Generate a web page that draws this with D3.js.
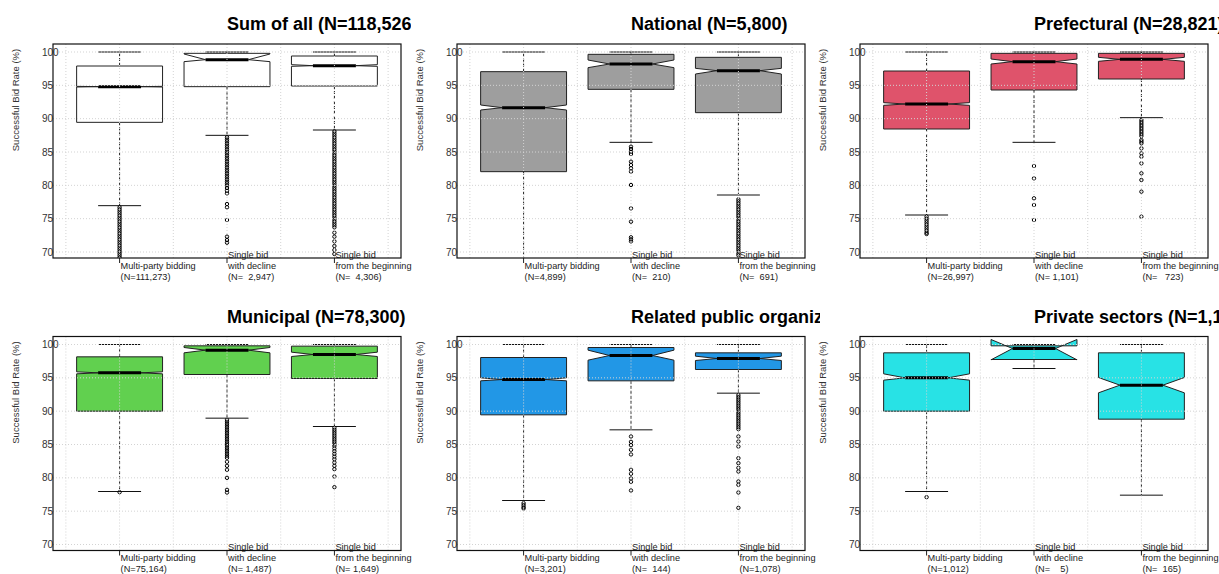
<!DOCTYPE html>
<html>
<head>
<meta charset="utf-8">
<script src="https://cdn.jsdelivr.net/npm/d3@7"></script>
<style>
  body { margin: 0; background: #fff; }
  text { font-family: "Liberation Sans", Arial, sans-serif; }
</style>
</head>
<body>
<div id="chart"></div>
<script>
// categories
const groups = ["Multi-party bidding", "Single bid\nwith decline", "Single bid\nfrom the beginning"];
const titles = ["Sum of all (N=118,526)", "National (N=5,800)", "Prefectural (N=28,821)",
                "Municipal (N=78,300)", "Related public organizations (N=4,423)", "Private sectors (N=1,182)"];
const colors = ["#ffffff", "#9e9e9e", "#df536b", "#61d04f", "#2297e6", "#28e2e5"];
const nLabels = [
    ["(N=111,273)", "(N=  2,947)", "(N=  4,306)"],
    ["(N=4,899)", "(N=  210)", "(N=  691)"],
    ["(N=26,997)", "(N= 1,101)", "(N=   723)"],
    ["(N=75,164)", "(N= 1,487)", "(N= 1,649)"],
    ["(N=3,201)", "(N=  144)", "(N=1,078)"],
    ["(N=1,012)", "(N=    5)", "(N=  165)"]
];
const yTicks = [70, 75, 80, 85, 90, 95, 100];

// box statistics per panel, one value per group
const lowerWhisker = [[76.95, 87.5, 88.3], [65, 86.45, 78.55], [75.55, 86.45, 90.15],
                      [77.95, 88.95, 87.7], [76.6, 87.2, 92.7], [77.95, 96.4, 77.4]];
const q1 = [[89.45, 94.8, 94.9], [82.05, 94.4, 90.9], [88.45, 94.3, 95.95],
            [90.0, 95.5, 94.9], [89.45, 94.55, 96.25], [90.0, 97.75, 88.8]];
const confLo = [[94.75, 98.55, 97.85], [91.3, 97.65, 96.7], [92.0, 98.2, 98.6],
                [95.6, 98.75, 98.2], [94.55, 97.65, 97.6], [94.65, 97.7, 92.75]];
const median = [[94.8, 98.85, 97.95], [91.65, 98.2, 97.2], [92.2, 98.55, 98.9],
                [95.75, 99.15, 98.5], [94.75, 98.35, 97.9], [95.0, 99.4, 93.9]];
const confHi = [[94.85, 99.7, 98.1], [92.05, 98.8, 97.55], [92.4, 98.95, 99.2],
                [95.9, 99.55, 98.85], [95.0, 99.15, 98.25], [95.6, 100.75, 95.05]];
const q3 = [[97.9, 99.8, 99.4], [97.05, 99.65, 99.2], [97.15, 99.8, 99.8],
            [98.15, 99.8, 99.75], [98.05, 99.55, 98.75], [98.75, 99.8, 98.75]];
const upperWhisker = [[100, 100, 100], [100, 100, 100], [100, 100, 100],
                      [100, 100, 100], [100, 100, 100], [100, 100, 100]];

const outliers = [
    [
        [76.7, 76.4, 76.1, 75.8, 75.5, 75.2, 74.9, 74.6, 74.3, 74.0, 73.7, 73.4, 73.1, 72.8, 72.5,
         72.2, 71.9, 71.6, 71.3, 71.0, 70.7, 70.4, 70.1, 69.8, 69.5, 69.2],
        [87.2, 86.9, 86.6, 86.3, 86.0, 85.7, 85.4, 85.1, 84.8, 84.5, 84.2, 83.9, 83.6, 83.3, 83.0,
         82.7, 82.4, 82.1, 81.8, 81.5, 81.2, 80.9, 80.6, 80.3, 80.0, 79.6, 79.2, 78.8, 77.2, 76.7,
         74.8, 72.3, 71.8, 71.4],
        [88.1, 87.8, 87.5, 87.2, 86.9, 86.6, 86.3, 86.0, 85.7, 85.4, 85.1, 84.8, 84.5, 84.2, 83.9,
         83.6, 83.3, 83.0, 82.7, 82.4, 82.1, 81.8, 81.5, 81.2, 80.9, 80.6, 80.3, 80.0, 79.7, 79.4,
         79.1, 78.8, 78.5, 78.2, 77.9, 77.6, 77.3, 77.0, 76.7, 76.4, 76.1, 75.8, 75.5, 75.2, 74.9,
         74.6, 74.3, 74.0, 73.7, 72.9, 72.3, 71.6, 70.9, 70.3, 69.7]
    ],
    [
        [],
        [85.8, 85.45, 85.05, 84.7, 83.55, 83.05, 82.55, 82.05, 80.05, 76.55, 74.55, 72.2, 71.9, 71.6],
        [77.9, 77.6, 77.3, 77.0, 76.7, 76.4, 76.1, 75.8, 75.5, 75.2, 74.9, 74.6, 74.3, 74.0, 73.7,
         73.4, 73.1, 72.8, 72.5, 72.2, 71.9, 71.6, 71.3, 71.0, 70.7, 70.4, 70.1, 69.8, 69.5]
    ],
    [
        [75.3, 75.0, 74.7, 74.4, 74.1, 73.8, 73.5, 73.2, 72.9, 72.7],
        [82.9, 81.05, 78.05, 77.05, 74.8],
        [89.8, 89.5, 89.2, 88.9, 88.6, 88.3, 88.0, 87.7, 87.4, 86.8, 86.55, 86.3, 85.55, 84.8, 84.3,
         83.3, 81.8, 80.8, 79.05, 75.3]
    ],
    [
        [77.85],
        [88.7, 88.4, 88.1, 87.8, 87.5, 87.2, 86.9, 86.6, 86.3, 86.0, 85.7, 85.4, 85.1, 84.8, 84.5,
         84.2, 83.9, 83.6, 83.3, 83.0, 82.4, 81.8, 81.2, 80.0, 78.2, 77.8],
        [87.5, 87.2, 86.9, 86.6, 86.3, 86.0, 85.7, 85.4, 85.1, 84.8, 84.4, 84.0, 83.6, 83.2, 82.8,
         82.3, 81.8, 81.3, 80.2, 78.6]
    ],
    [
        [76.2, 75.9, 75.6, 75.4],
        [86.2, 85.4, 84.9, 84.2, 83.5, 81.2, 80.6, 79.9, 79.4, 78.1],
        [92.4, 92.1, 91.8, 91.5, 91.2, 90.9, 90.6, 90.3, 90.0, 89.7, 89.4, 89.1, 88.8, 88.5, 88.2,
         87.9, 87.6, 87.3, 86.2, 85.45, 84.7, 82.95, 82.2, 81.5, 80.95, 79.45, 78.95, 77.8, 75.5]
    ],
    [
        [77.1],
        [],
        []
    ]
];

const W = 1219, H = 574;
const plotW = 348, plotH = 214;
const colLeft = [53, 457, 860];
const rowTop = [44, 336.5];
const colClip = [[0, 411], [411, 820], [820, 1219]];
const gridX = [0.5, 1, 1.5, 2, 2.5, 3, 3.5];

const svg = d3.select('#chart')
    .append('svg')
    .attr('width', W)
    .attr('height', H);
svg.append('rect').attr('width', W).attr('height', H).attr('fill', '#fff');

const x = d3.scaleLinear().domain([0.38, 3.62]).range([0, plotW]);
const y = d3.scaleLinear().domain([69.1, 101.2]).range([plotH, 0]);
const hw = x(1.4) - x(1); // half box width (R default width 0.8)

titles.forEach((title, p) => {
    const c = p % 3, r = Math.floor(p / 3);
    const L = colLeft[c], T = rowTop[r];

    // title, clipped to its figure column
    svg.append('clipPath').attr('id', 'fig' + p)
        .append('rect')
        .attr('x', colClip[c][0]).attr('y', 0)
        .attr('width', colClip[c][1] - colClip[c][0]).attr('height', H);
    svg.append('text')
        .attr('clip-path', 'url(#fig' + p + ')')
        .attr('x', L + x(2))
        .attr('y', T - 14)
        .attr('font-size', '18px')
        .attr('font-weight', 'bold')
        .attr('fill', '#000')
        .text(title);

    const g = svg.append('g').attr('transform', 'translate(' + L + ',' + T + ')');
    g.append('clipPath').attr('id', 'plot' + p)
        .append('rect').attr('width', plotW).attr('height', plotH);
    const inner = g.append('g').attr('clip-path', 'url(#plot' + p + ')');

    groups.forEach((grp, i) => {
        const cx = x(i + 1);
        const pts = [
            [cx - hw, q1[p][i]], [cx + hw, q1[p][i]], [cx + hw, confLo[p][i]],
            [cx + hw / 2, median[p][i]], [cx + hw, confHi[p][i]], [cx + hw, q3[p][i]],
            [cx - hw, q3[p][i]], [cx - hw, confHi[p][i]], [cx - hw / 2, median[p][i]],
            [cx - hw, confLo[p][i]]
        ];
        inner.append('polygon')
            .attr('points', pts.map(d => d[0] + ',' + y(d[1])).join(' '))
            .attr('fill', colors[p])
            .attr('stroke', '#222')
            .attr('stroke-width', 1);

        // whiskers
        [[q3[p][i], upperWhisker[p][i]], [q1[p][i], lowerWhisker[p][i]]].forEach(w => {
            inner.append('line')
                .attr('x1', cx).attr('x2', cx)
                .attr('y1', y(w[0])).attr('y2', y(w[1]))
                .attr('stroke', '#222')
                .attr('stroke-dasharray', '3,2');
            inner.append('line')
                .attr('x1', cx - hw / 2).attr('x2', cx + hw / 2)
                .attr('y1', y(w[1])).attr('y2', y(w[1]))
                .attr('stroke', '#111');
        });

        // median
        inner.append('line')
            .attr('x1', cx - hw / 2).attr('x2', cx + hw / 2)
            .attr('y1', y(median[p][i])).attr('y2', y(median[p][i]))
            .attr('stroke', '#000')
            .attr('stroke-width', 3);

        // outliers
        inner.selectAll(null)
            .data(outliers[p][i])
            .enter()
            .append('circle')
            .attr('cx', cx)
            .attr('cy', d => y(d))
            .attr('r', 1.7)
            .attr('fill', 'none')
            .attr('stroke', '#000')
            .attr('stroke-width', 1);

        // x tick + label
        g.append('line')
            .attr('x1', cx).attr('x2', cx)
            .attr('y1', plotH).attr('y2', plotH + 5)
            .attr('stroke', '#222');
        const lines = (grp + '\n' + nLabels[p][i]).split('\n');
        lines.forEach((line, k) => {
            g.append('text')
                .attr('x', cx + 1)
                .attr('y', plotH + 21.7 - (lines.length - 1 - k) * 10.9)
                .attr('font-size', '9.2px')
                .attr('fill', '#222')
                .style('white-space', 'pre')
                .text(line);
        });
    });

    // grid drawn on top, as in the original
    inner.selectAll(null).data(yTicks).enter().append('line')
        .attr('x1', 0).attr('x2', plotW)
        .attr('y1', d => y(d)).attr('y2', d => y(d))
        .attr('stroke', '#d3d3d3')
        .attr('stroke-dasharray', '1,2');
    inner.selectAll(null).data(gridX).enter().append('line')
        .attr('x1', d => x(d)).attr('x2', d => x(d))
        .attr('y1', 0).attr('y2', plotH)
        .attr('stroke', '#d3d3d3')
        .attr('stroke-dasharray', '1,2');

    // y tick labels
    yTicks.forEach(t => {
        g.append('text')
            .attr('x', -11)
            .attr('y', y(t))
            .attr('dy', '0.35em')
            .attr('font-size', '10px')
            .attr('fill', '#333')
            .text(t);
    });

    // frame
    g.append('rect')
        .attr('width', plotW).attr('height', plotH)
        .attr('fill', 'none')
        .attr('stroke', '#111')
        .attr('stroke-width', 1.2);

    // y label
    g.append('text')
        .attr('transform', 'translate(-37,56) rotate(-90)')
        .attr('text-anchor', 'middle')
        .attr('dy', '0.35em')
        .attr('font-size', '9.5px')
        .attr('fill', '#333')
        .text('Successful Bid Rate (%)');
});
</script>
</body>
</html>
